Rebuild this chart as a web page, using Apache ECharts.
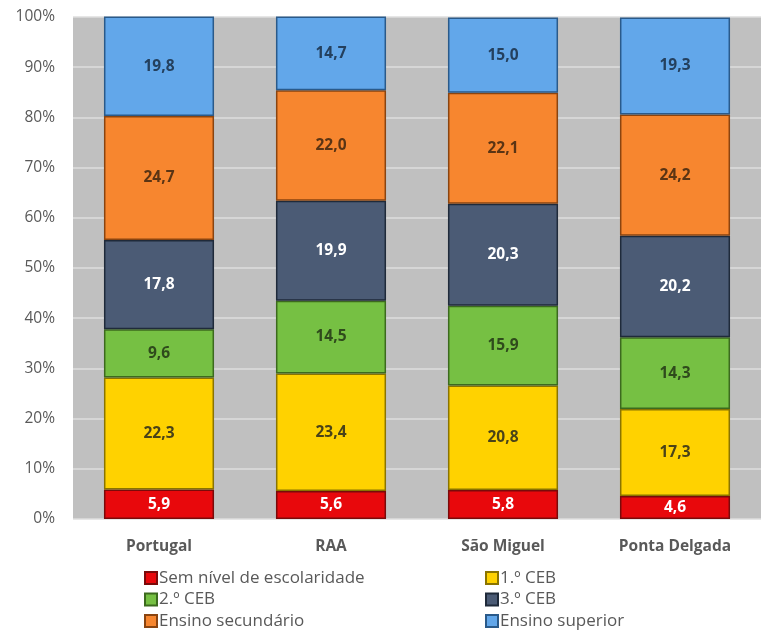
<!DOCTYPE html>
<html><head><meta charset="utf-8">
<script src="https://cdn.jsdelivr.net/npm/echarts@6/dist/echarts.min.js"></script>
<style>html,body{margin:0;padding:0;background:#fff}#c{width:761px;height:631px}</style>
</head><body><div id="c"></div>
<script>
var categories = ['Portugal', 'RAA', 'São Miguel', 'Ponta Delgada'];
var seriesNames = ['Sem nível de escolaridade', '1.º CEB', '2.º CEB', '3.º CEB', 'Ensino secundário', 'Ensino superior'];
var semNivel = [5.9, 5.6, 5.8, 4.6];
var ceb1 = [22.3, 23.4, 20.8, 17.3];
var ceb2 = [9.6, 14.5, 15.9, 14.3];
var ceb3 = [17.8, 19.9, 20.3, 20.2];
var secundario = [24.7, 22.0, 22.1, 24.2];
var superior = [19.8, 14.7, 15.0, 19.3];
var yTicks = [0, 10, 20, 30, 40, 50, 60, 70, 80, 90, 100];

var values = [semNivel, ceb1, ceb2, ceb3, secundario, superior];
var colors = ['#e8080c', '#ffd200', '#76c043', '#4b5b75', '#f7862f', '#62a7ea'];
var borders = ['#7a0a0a', '#8a7400', '#3c6a1e', '#1f2a3a', '#8a4410', '#2a5a8a'];
var labelColors = ['#ffffff', '#4a4318', '#2f4a1c', '#ffffff', '#5a3414', '#24405e'];

var font = '"Open Sans", "Noto Sans", sans-serif';
var series = values.map(function (arr, i) {
  return {
    name: seriesNames[i],
    type: 'bar',
    stack: 'total',
    barWidth: '64%',
    data: arr,
    itemStyle: { color: colors[i], borderColor: borders[i], borderWidth: 1.5 },
    label: {
      show: true, position: 'inside',
      formatter: function (p) { return p.value.toFixed(1).replace('.', ','); },
      color: labelColors[i], fontWeight: 'bold', fontSize: 15.5, fontFamily: font
    }
  };
});

var legendText = { color: '#595959', fontSize: 17, fontFamily: font, lineHeight: 18, padding: [0, 0, 0, -3] };
var chart = echarts.init(document.getElementById('c'));
chart.setOption({
  animation: false,
  backgroundColor: '#ffffff',
  grid: { left: 73, top: 17, width: 702, height: 502, backgroundColor: '#c0c0c0', show: true, borderWidth: 0 },
  xAxis: {
    type: 'category', data: categories,
    axisLine: { show: false }, axisTick: { show: false },
    axisLabel: { color: '#595959', fontWeight: 'bold', fontSize: 15.5, fontFamily: font, margin: 20 }
  },
  yAxis: {
    type: 'value', min: 0, max: 100, interval: 10,
    axisLine: { show: false }, axisTick: { show: false },
    splitLine: { lineStyle: { color: '#dedede', width: 1.5 } },
    axisLabel: {
      color: '#595959', fontSize: 15.5, fontFamily: font, margin: 18,
      formatter: function (v) { return yTicks.indexOf(v) >= 0 ? v + '%' : ''; }
    }
  },
  legend: [
    {
      orient: 'vertical', left: 144, top: 569, padding: 0, itemGap: 3.5, itemWidth: 12, itemHeight: 12,
      icon: 'rect', textStyle: legendText,
      data: [seriesNames[0], seriesNames[2], seriesNames[4]]
    },
    {
      orient: 'vertical', left: 485, top: 569, padding: 0, itemGap: 3.5, itemWidth: 12, itemHeight: 12,
      icon: 'rect', textStyle: legendText,
      data: [seriesNames[1], seriesNames[3], seriesNames[5]]
    }
  ],
  series: series
});
</script>
</body></html>
